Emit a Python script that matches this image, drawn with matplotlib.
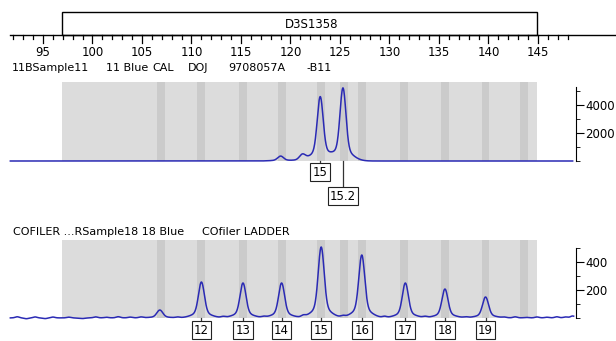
import numpy as np
import matplotlib.pyplot as plt
from matplotlib.patches import Rectangle

# ---- data ----
ruler_ticks = list(range(92, 149))
ruler_labels = [95, 100, 105, 110, 115, 120, 125, 130, 135, 140, 145]
locus_name = "D3S1358"
locus_range = (96.9, 144.9)

# allele bins (bp)
bin_alleles = ["11", "12", "13", "14", "15", "15.2", "16", "17", "18", "19", "20"]
bin_bp = [106.9, 111.0, 115.2, 119.1, 123.1, 125.4, 127.2, 131.5, 135.6, 139.7, 143.6]

# panel 1: sample
sample_title = ["11BSample11", "11 Blue", "CAL", "DOJ", "9708057A", "-B11"]
sample_title_px = [12, 106, 152, 188, 228, 306]
sample_peak_bp = [119.0, 121.2, 123.0, 125.3]
sample_peak_rfu = [350, 420, 4570, 5200]
sample_calls = ["15", "15.2"]
sample_call_bp = [123.0, 125.3]

# panel 2: allelic ladder
ladder_title = ["COFILER ...RSample18 18 Blue", "COfiler LADDER"]
ladder_title_px = [13, 202]
ladder_peak_bp = [106.8, 111.0, 115.2, 119.1, 123.1, 127.2, 131.6, 135.6, 139.7]
ladder_peak_rfu = [57, 257, 250, 250, 507, 450, 250, 207, 150]
ladder_calls = ["12", "13", "14", "15", "16", "17", "18", "19"]
ladder_call_bp = [111.0, 115.2, 119.1, 123.1, 127.2, 131.6, 135.6, 139.7]
# small baseline wiggles of the ladder trace
noise_bp = [92.4, 93.3, 94.2, 95.2, 96.0, 97.6, 99.0, 100.3, 101.4, 102.6,
            103.8, 104.9, 108.6, 113.2, 117.3, 121.3, 125.3, 129.5, 133.6,
            137.7, 141.6, 142.7, 143.8, 144.9, 145.9, 146.9, 147.8, 148.5]
noise_rfu = [9, -6, 8, -5, 7, 6, -4, 8, 5, 9, 6, 7, 6, 8, 7, 12, 10, 9, 8,
             6, 5, 8, 4, 7, 5, 8, 6, 14]

BLUE = "#2a2ab4"
GRAY = "#dcdcdc"
BIN_GRAY = "#cbcbcb"
W, H = 616, 341
XL = (95 - 43 / 9.9, 95 + (W - 43) / 9.9)


def px_axes(fig, top, bottom):
    return fig.add_axes([0, 1 - bottom / H, 1, (bottom - top) / H])


def trace(x, bps, rfus, sigma=0.29):
    y = np.zeros_like(x)
    for b, h in zip(bps, rfus):
        y += h * (0.84 * np.exp(-0.5 * ((x - b) / sigma) ** 2)
                  + 0.16 * np.exp(-0.5 * ((x - b) / (3.0 * sigma)) ** 2))
    return y


def draw_panel(ax, top, bps, rfus, ticks, minor, calls, call_bp, box_y, box_top,
               noise=None, x_end=148.5):
    ax.set_xlim(*XL)
    ax.add_patch(Rectangle((locus_range[0], 0), locus_range[1] - locus_range[0],
                           top, color=GRAY, lw=0, zorder=0))
    for b in bin_bp:
        ax.add_patch(Rectangle((b - 0.4, 0), 0.8, top, color=BIN_GRAY, lw=0, zorder=0.5))
    x = np.linspace(91.7, x_end, 3000)
    y = trace(x, bps, rfus)
    if noise is not None:
        y += trace(x, noise[0], noise[1], sigma=0.2)
    ax.plot(x, y, color=BLUE, lw=1.1, zorder=2)
    for lab, b, by, bt in zip(calls, call_bp, box_y, box_top):
        ax.plot([b, b], [0, bt], color="#333333", lw=0.9, zorder=1)
        ax.text(b, by, lab, ha="center", va="center", fontsize=8.5,
                bbox=dict(boxstyle="square,pad=0.2", fc="white", ec="#222222", lw=0.8))
    for s in ["top", "bottom", "left"]:
        ax.spines[s].set_visible(False)
    ax.spines["right"].set_position(("data", 148.84))
    ax.spines["right"].set_bounds(0, minor[-1])
    ax.yaxis.tick_right()
    ax.set_xticks([])
    ax.set_yticks(ticks)
    ax.set_yticks(minor, minor=True)
    ax.tick_params(axis="y", which="major", direction="out", length=6, pad=0.5,
                   labelsize=8.5)
    ax.tick_params(axis="y", which="minor", direction="out", length=3)
    ax.patch.set_visible(False)


fig = plt.figure(figsize=(W / 100, H / 100), dpi=100)

# ruler with locus box
ax_top = px_axes(fig, 0, 75)
ax_top.set_xlim(*XL)
ax_top.set_ylim(75, 0)
ax_top.axis("off")
ax_top.plot([91.7, XL[1]], [35, 35], color="black", lw=1)
for t in ruler_ticks:
    ax_top.plot([t, t], [35, 43 if t % 5 == 0 else 39], color="black", lw=0.9)
for t in ruler_labels:
    ax_top.text(t, 52, str(t), ha="center", va="center", fontsize=8.5)
ax_top.add_patch(Rectangle((locus_range[0], 12), locus_range[1] - locus_range[0], 23,
                           fc="white", ec="black", lw=1))
ax_top.text(locus_range[0] + 0.525 * (locus_range[1] - locus_range[0]), 24, locus_name,
            ha="center", va="center", fontsize=8.5)
for t, xp in zip(sample_title, sample_title_px):
    fig.text(xp / W, 1 - 68 / H, t, ha="left", va="center", fontsize=8)

# panel 1 (1 px = 1/0.014 rfu, baseline at row 161)
ax1 = px_axes(fig, 75, 215)
ax1.set_ylim(-(215 - 161) / 0.014, (161 - 75) / 0.014)
draw_panel(ax1, (161 - 82) / 0.014, sample_peak_bp, sample_peak_rfu,
           [2000, 4000], [0, 1000, 3000, 5300], sample_calls, sample_call_bp,
           [-800, -2500], [-300, -1857], x_end=148.5)
ax1.set_yticks([0, 1000, 3000, 5000], minor=True)

# panel 2 (baseline at row 318)
ax2 = px_axes(fig, 215, 341)
ax2.set_ylim(-(341 - 318) / 0.14, (318 - 215) / 0.14)
draw_panel(ax2, (318 - 240) / 0.14, ladder_peak_bp, ladder_peak_rfu,
           [200, 400], [0, 100, 300, 500], ladder_calls, ladder_call_bp,
           [-86] * 8, [-30] * 8, noise=(noise_bp, noise_rfu), x_end=148.6)
for t, xp in zip(ladder_title, ladder_title_px):
    fig.text(xp / W, 1 - 232 / H, t, fontsize=8, va="center")

fig.savefig("out.png", dpi=100)
